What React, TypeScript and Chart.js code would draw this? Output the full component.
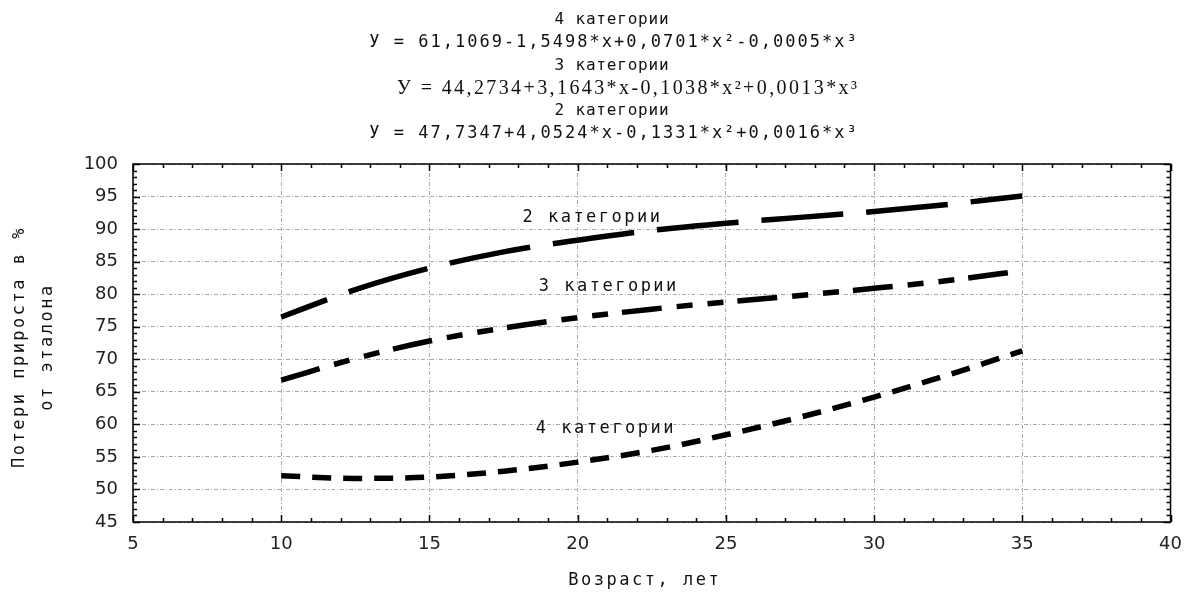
import React, { useEffect, useRef } from 'react';
import { Chart, registerables } from 'chart.js';
Chart.register(...registerables);

const ages = [10, 12.5, 15, 17.5, 20, 22.5, 25, 27.5, 30, 32.5, 35];
const cat2 = [76.5, 80.7, 84.0, 86.5, 88.3, 89.8, 90.9, 91.8, 92.7, 93.8, 95.1];
const cat3 = [66.8, 70.1, 72.8, 74.8, 76.4, 77.7, 78.8, 79.8, 80.9, 82.1, 83.6];
const cat4 = [52.1, 51.7, 51.9, 52.8, 54.2, 56.0, 58.4, 61.1, 64.2, 67.6, 71.3];

const seriesNames = ['2 категории', '3 категории', '4 категории'];
const labelX = [20.5, 21.05, 20.95];
const labelY = [91.7, 81.1, 59.4];

const titleLines = [
  '4 категории',
  'У = 61,1069-1,5498*х+0,0701*х²-0,0005*х³',
  '3 категории',
  'У = 44,2734+3,1643*x-0,1038*x²+0,0013*x³',
  '2 категории',
  'У = 47,7347+4,0524*х-0,1331*х²+0,0016*х³',
];
const xTitle = 'Возраст, лет';
const yTitle = ['Потери прироста в %', 'от эталона'];

const X_MIN = 5, X_MAX = 40, X_STEP = 5;
const Y_MIN = 45, Y_MAX = 100, Y_STEP = 5;

const MONO = '"DejaVu Sans Mono", monospace';

function setMono(ctx: any, spacing = 2.5, size = 17) {
  ctx.letterSpacing = spacing + 'px';
  ctx.font = size + 'px ' + MONO;
}

const decorPlugin = {
  id: 'decor',
  afterDraw(chart: any) {
    const ctx = chart.ctx as CanvasRenderingContext2D;
    const { left, right, top, bottom } = chart.chartArea;
    const xs = chart.scales.x;
    const ys = chart.scales.y;
    ctx.save();
    ctx.strokeStyle = '#000';
    ctx.lineWidth = 1.5;
    ctx.setLineDash([]);
    ctx.strokeRect(left, top, right - left, bottom - top);
    ctx.beginPath();
    for (let v = Y_MIN; v <= Y_MAX; v += 1) {
      const p = Math.round(ys.getPixelForValue(v)) + 0.5;
      const len = v % 5 === 0 ? 7 : 4;
      ctx.moveTo(left, p); ctx.lineTo(left + len, p);
      ctx.moveTo(right, p); ctx.lineTo(right - len, p);
    }
    for (let v = X_MIN; v <= X_MAX; v += 1) {
      const p = Math.round(xs.getPixelForValue(v)) + 0.5;
      const len = v % 5 === 0 ? 7 : 4;
      ctx.moveTo(p, bottom); ctx.lineTo(p, bottom - len);
      ctx.moveTo(p, top); ctx.lineTo(p, top + len);
    }
    ctx.stroke();

    ctx.fillStyle = '#111';
    ctx.textAlign = 'center';
    ctx.textBaseline = 'middle';
    const tys = [20, 43, 66, 89, 111, 134];
    titleLines.forEach((t, i) => {
      if (i === 3) {
        (ctx as any).letterSpacing = '2.4px';
        ctx.font = '20px "Liberation Serif", serif';
        ctx.fillText(t, 628, tys[i]);
      } else if (i % 2 === 0) {
        setMono(ctx, 0.8, 16);
        ctx.fillText(t, 612, tys[i]);
      } else {
        setMono(ctx, 2);
        ctx.fillText(t, 614, tys[i]);
      }
    });

    setMono(ctx);
    seriesNames.forEach((t, i) => {
      ctx.fillText(t, xs.getPixelForValue(labelX[i]), ys.getPixelForValue(labelY[i]));
    });

    ctx.fillText(xTitle, (left + right) / 2 - 7, 581);
    ctx.save();
    ctx.translate(20, (top + bottom) / 2 + 4);
    ctx.rotate(-Math.PI / 2);
    ctx.fillText(yTitle[0], 0, 0);
    ctx.fillText(yTitle[1], 0, 28);
    ctx.restore();
    ctx.restore();
  },
};

export default function App() {
  const ref = useRef<HTMLCanvasElement>(null);
  useEffect(() => {
    const mk = (vals: number[]) => ages.map((a, i) => ({ x: a, y: vals[i] }));
    const common = {
      borderColor: '#000',
      borderWidth: 5.5,
      pointRadius: 0,
      fill: false,
      tension: 0.4,
      cubicInterpolationMode: 'monotone' as const,
      borderCapStyle: 'butt' as const,
    };
    const tickFont = { family: '"DejaVu Sans", sans-serif', size: 18 };
    const chart = new Chart(ref.current!, {
      type: 'line',
      data: {
        datasets: [
          { ...common, label: seriesNames[0], data: mk(cat2), borderDash: [82, 23], borderDashOffset: 33 },
          { ...common, label: seriesNames[1], data: mk(cat3), borderDash: [40, 15, 16, 15, 16, 14], borderDashOffset: 0 },
          { ...common, label: seriesNames[2], data: mk(cat4), borderDash: [19, 12], borderDashOffset: 0 },
        ],
      },
      options: {
        animation: false,
        responsive: false,
        layout: { padding: { top: 164, right: 1, left: 0, bottom: 0 } },
        plugins: { legend: { display: false }, tooltip: { enabled: false }, title: { display: false } },
        scales: {
          x: {
            type: 'linear',
            min: X_MIN,
            max: X_MAX,
            afterFit: (s: any) => { s.height = 70; },
            ticks: { stepSize: X_STEP, padding: 12, color: '#222', font: tickFont },
            grid: { color: '#aaaaaa', lineWidth: 1, drawTicks: false },
            border: { display: false, dash: [4, 2, 1, 2] },
          },
          y: {
            type: 'linear',
            min: Y_MIN,
            max: Y_MAX,
            afterFit: (s: any) => { s.width = 133; },
            ticks: { stepSize: Y_STEP, padding: 15, color: '#222', font: tickFont },
            grid: { color: '#aaaaaa', lineWidth: 1, drawTicks: false },
            border: { display: false, dash: [4, 2, 1, 2] },
          },
        },
      },
      plugins: [decorPlugin],
    });
    return () => chart.destroy();
  }, []);
  return (
    <div style={{ position: 'fixed', left: 0, top: 0, width: 1194, height: 592, background: '#fff' }}>
      <canvas ref={ref} width={1194} height={592} />
    </div>
  );
}
